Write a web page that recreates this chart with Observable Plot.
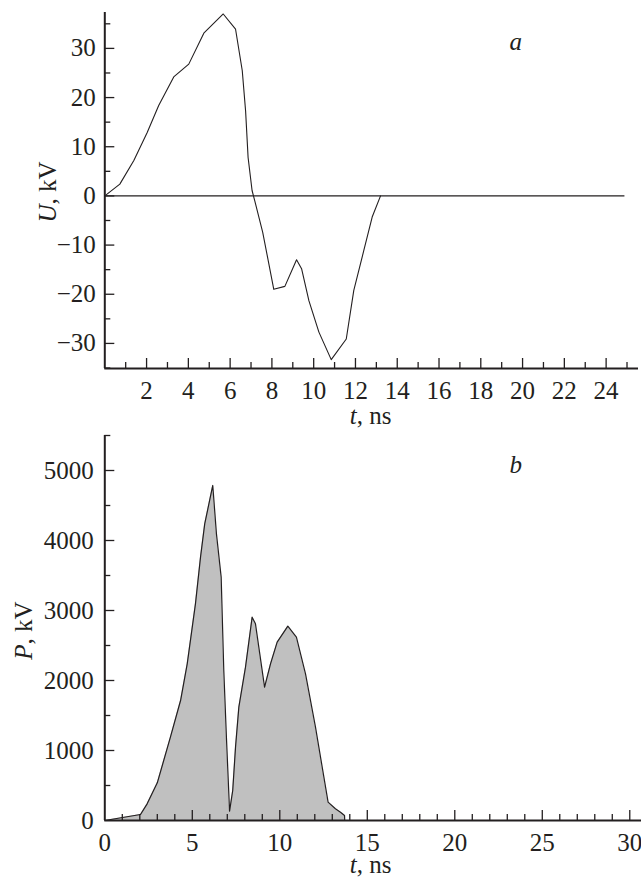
<!DOCTYPE html>
<html>
<head>
<meta charset="utf-8">
<script src="https://cdn.jsdelivr.net/npm/d3@7"></script>
<script src="https://cdn.jsdelivr.net/npm/@observablehq/plot@0.6"></script>
<style>
  html, body { margin: 0; padding: 0; background: #fff; }
  #chart { width: 641px; }
  #chart svg { display: block; }
</style>
</head>
<body>
<div id="chart"></div>
<script>
// Panel a: voltage U (kV) vs time t (ns)
const tA = [0, 0.72, 1.39, 2.03, 2.58, 3.3, 4.02, 4.74, 5.67, 6.26, 6.58, 6.74, 6.86, 7.05, 7.18, 7.56, 8.09, 8.62, 9.18, 9.42, 9.77, 10.25, 10.84, 11.56, 11.92, 12.4, 12.8, 13.2];
const uA = [0, 2.4, 7.2, 12.9, 18.4, 24.2, 26.8, 33.1, 37.0, 33.9, 25.5, 17.3, 7.8, 1.1, -1.0, -7.4, -19.0, -18.4, -13.0, -14.8, -21.3, -27.7, -33.3, -29.1, -19.2, -11.1, -4.3, 0];
const zeroLineEnd = 24.9;

// Panel b: power P vs time t (ns)
const tB = [0, 2.04, 2.42, 3.0, 3.75, 4.33, 4.71, 5.18, 5.47, 5.71, 5.91, 6.17, 6.38, 6.65, 6.8, 6.95, 7.13, 7.31, 7.47, 7.66, 8.04, 8.42, 8.61, 9.13, 9.47, 9.85, 10.46, 10.95, 11.47, 12.04, 12.76, 13.18, 13.47, 13.7, 13.71];
const pB = [0, 86, 238, 538, 1190, 1714, 2238, 3095, 3762, 4238, 4476, 4786, 4095, 3476, 2143, 1190, 133, 429, 1048, 1619, 2190, 2905, 2810, 1905, 2238, 2548, 2776, 2619, 2095, 1333, 262, 167, 119, 71, 0];

// Tick labels and tick marks
const xTickLabelsA = [2, 4, 6, 8, 10, 12, 14, 16, 18, 20, 22, 24];
const xTickMarksA = [1, 2, 3, 4, 5, 6, 7, 8, 9, 10, 11, 12, 13, 14, 15, 16, 17, 18, 19, 20, 21, 22, 23, 24, 25];
const yTickLabelsA = [-30, -20, -10, 0, 10, 20, 30];
const yTickMarksA = [-35, -30, -25, -20, -15, -10, -5, 0, 5, 10, 15, 20, 25, 30, 35];
const xTickLabelsB = [0, 5, 10, 15, 20, 25, 30];
const xTickMarksB = [1, 2, 3, 4, 5, 6, 7, 8, 9, 10, 11, 12, 13, 14, 15, 16, 17, 18, 19, 20, 21, 22, 23, 24, 25, 26, 27, 28, 29, 30];
const yTickLabelsB = [0, 1000, 2000, 3000, 4000, 5000];
const yTickMarksB = [500, 1000, 1500, 2000, 2500, 3000, 3500, 4000, 4500, 5000, 5500];

const ink = "#231f20";
const fmt = d3.format("d");
const font = {fontFamily: "'Liberation Serif', 'Times New Roman', serif", fontSize: "25px", color: ink, background: "#fff", overflow: "visible"};

const dataA = tA.map((t, i) => ({t, u: uA[i]}));
const dataB = tB.map((t, i) => ({t, p: pB[i]}));

// ---------- Panel a ----------
const W = 641;
const hA = 430, mTA = 12, mBA = 62, mLA = 104.3, mRA = 3;
const ihA = hA - mTA - mBA, iwA = W - mLA - mRA;
const xDomA = [0, 25.55], yDomA = [-35.1, 37.3];

const plotA = Plot.plot({
  width: W, height: hA,
  marginTop: mTA, marginBottom: mBA, marginLeft: mLA, marginRight: mRA,
  style: font,
  x: {domain: xDomA},
  y: {domain: yDomA},
  marks: [
    Plot.ruleY([0], {x1: 0, x2: zeroLineEnd, stroke: ink, strokeWidth: 1.1}),
    Plot.line(dataA, {x: "t", y: "u", stroke: ink, strokeWidth: 1.1}),
    // inward tick marks
    Plot.tickX(xTickMarksA.filter(d => d % 2 === 0), {x: d => d, stroke: ink, strokeWidth: 1.3, insetTop: ihA - 10}),
    Plot.tickX(xTickMarksA.filter(d => d % 2 !== 0), {x: d => d, stroke: ink, strokeWidth: 1.3, insetTop: ihA - 6}),
    Plot.tickY(yTickMarksA.filter(d => d % 10 === 0), {y: d => d, stroke: ink, strokeWidth: 1.3, insetRight: iwA - 10}),
    Plot.tickY(yTickMarksA.filter(d => d % 10 !== 0), {y: d => d, stroke: ink, strokeWidth: 1.3, insetRight: iwA - 6}),
    // axis lines
    Plot.ruleX([xDomA[0]], {stroke: ink, strokeWidth: 2}),
    Plot.ruleY([yDomA[0]], {stroke: ink, strokeWidth: 2}),
    Plot.axisX({ticks: xTickLabelsA, tickSize: 0, tickPadding: 13, tickFormat: fmt, label: null}),
    Plot.axisY({ticks: yTickLabelsA, tickSize: 0, tickPadding: 9, tickFormat: fmt, label: null}),
    // axis titles
    Plot.text(["t"], {frameAnchor: "bottom", dx: -15, dy: 55, lineAnchor: "bottom", textAnchor: "end", fontStyle: "italic", fill: ink}),
    Plot.text([", ns"], {frameAnchor: "bottom", dx: -15, dy: 55, lineAnchor: "bottom", textAnchor: "start", fill: ink}),
    Plot.text(["U"], {frameAnchor: "left", rotate: -90, dx: -57.3, dy: 14, textAnchor: "end", fontStyle: "italic", fill: ink}),
    Plot.text([", kV"], {frameAnchor: "left", rotate: -90, dx: -57.3, dy: 14, textAnchor: "start", fill: ink}),
    // panel label
    Plot.text(["a"], {frameAnchor: "top-left", dx: 404.7, dy: 20, fontStyle: "italic", fill: ink})
  ]
});

// ---------- Panel b ----------
const hB = 450, mTB = 5, mBB = 60, mLB = 104.3, mRB = 0;
const ihB = hB - mTB - mBB, iwB = W - mLB - mRB;
const xDomB = [0, 30.67], yDomB = [0, 5500];

const plotB = Plot.plot({
  width: W, height: hB,
  marginTop: mTB, marginBottom: mBB, marginLeft: mLB, marginRight: mRB,
  style: font,
  x: {domain: xDomB},
  y: {domain: yDomB},
  marks: [
    Plot.areaY(dataB, {x: "t", y: "p", fill: "#c0c0c0"}),
    Plot.lineY(dataB, {x: "t", y: "p", stroke: ink, strokeWidth: 1.2}),
    Plot.tickX(xTickMarksB.filter(d => d % 5 === 0), {x: d => d, stroke: ink, strokeWidth: 1.3, insetTop: ihB - 10}),
    Plot.tickX(xTickMarksB.filter(d => d % 5 !== 0), {x: d => d, stroke: ink, strokeWidth: 1.3, insetTop: ihB - 6}),
    Plot.tickY(yTickMarksB.filter(d => d % 1000 === 0), {y: d => d, stroke: ink, strokeWidth: 1.3, insetRight: iwB - 10}),
    Plot.tickY(yTickMarksB.filter(d => d % 1000 !== 0), {y: d => d, stroke: ink, strokeWidth: 1.3, insetRight: iwB - 6}),
    Plot.ruleX([xDomB[0]], {stroke: ink, strokeWidth: 2}),
    Plot.ruleY([yDomB[0]], {stroke: ink, strokeWidth: 2}),
    Plot.axisX({ticks: xTickLabelsB, tickSize: 0, tickPadding: 13, tickFormat: fmt, label: null}),
    Plot.axisY({ticks: yTickLabelsB, tickSize: 0, tickPadding: 11, tickFormat: fmt, label: null}),
    Plot.text(["t"], {frameAnchor: "bottom", dx: -16.5, dy: 52, lineAnchor: "bottom", textAnchor: "end", fontStyle: "italic", fill: ink}),
    Plot.text([", ns"], {frameAnchor: "bottom", dx: -16.5, dy: 52, lineAnchor: "bottom", textAnchor: "start", fill: ink}),
    Plot.text(["P"], {frameAnchor: "left", rotate: -90, dx: -80.6, dy: 16.4, textAnchor: "end", fontStyle: "italic", fill: ink}),
    Plot.text([", kV"], {frameAnchor: "left", rotate: -90, dx: -80.6, dy: 16.4, textAnchor: "start", fill: ink}),
    Plot.text(["b"], {frameAnchor: "top-left", dx: 404.7, dy: 19.7, fontStyle: "italic", fill: ink})
  ]
});

const chart = document.getElementById("chart");
chart.appendChild(plotA);
chart.appendChild(plotB);
</script>
</body>
</html>
